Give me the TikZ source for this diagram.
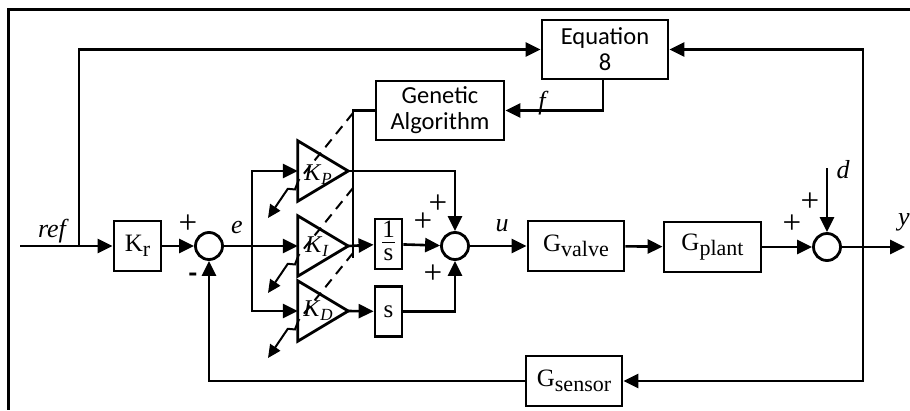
\documentclass[tikz,border=0pt]{standalone}
\usepackage{fontspec}
\setmainfont{Liberation Serif}
\newfontfamily\calibrifont{Carlito}
\usetikzlibrary{arrows.meta,calc}
\setlength\arrayrulewidth{0.8pt}
\newcommand\Gsub[2]{#1\raisebox{-5pt}{\fontsize{22}{22}\selectfont #2}}
\newcommand\Ksub[1]{\textit{K}\raisebox{-4pt}{\fontsize{17}{17}\selectfont\textit{#1}}}

\begin{document}
\begin{tikzpicture}[x=1pt,y=-1pt,
  wire/.style={line width=2.6pt},
  sig/.style={wire,-{Triangle[length=15pt,width=14pt]}},
  blk/.style={draw,line width=2.8pt,inner sep=0pt,minimum width=#1,minimum height=50pt,
              font=\fontsize{25}{25}\selectfont},
  sumj/.style={draw,circle,line width=2.8pt,minimum size=27pt,inner sep=0pt},
  gainhold/.style={inner sep=0pt,minimum width=50pt,minimum height=60pt},
  gaintri/.style={line width=2.8pt,line join=miter},
  ital/.style={font=\itshape\fontsize{26}{26}\selectfont,inner sep=0pt},
  sgn/.style={font=\fontsize{33}{33}\selectfont,inner sep=0pt},
  algtxt/.style={draw,line width=2.8pt,inner sep=0pt,minimum height=59pt,
                 font=\calibrifont\fontsize{24.5}{26}\selectfont,align=center},
  adj/.style={line width=2pt,dash pattern=on 10pt off 7pt},
  adjtip/.style={line width=2pt,-{Triangle[length=13pt,width=12pt]}},
]
\useasboundingbox (0,0) rectangle (910,410);

% outer frame
\draw[line width=3pt] (910,9) -- (8,9) -- (8,410);

% blocks
\node[blk=47pt] (kr) at (137.5,246) {\Gsub{K}{r}};
\node[sumj] (s1) at (209,246) {};
\node[gainhold] (kp) at (323,171) {};
\node[gainhold] (ki) at (323,246) {};
\node[gainhold] (kd) at (323,311) {};
\node[blk=27pt,font=\fontsize{25}{25}\selectfont] (inv) at (388.5,244)
  {\begin{tabular}{@{}c@{}}1\\[-3pt]\hline\rule{0pt}{17pt}s\end{tabular}};
\node[blk=27pt,font=\fontsize{25}{25}\selectfont] (der) at (388.5,311.5) {s};
\node[sumj] (s2) at (455,246) {};
\node[blk=96pt] (gv) at (576,246) {\Gsub{G}{valve}};
\node[blk=97pt] (gp) at (712.5,247) {\Gsub{G}{plant}};
\node[sumj] (s3) at (827,247) {};
\node[blk=96pt] (gs) at (574,381) {\Gsub{G}{sensor}};
\node[algtxt,minimum width=126pt] (eq) at (605,49.5) {Equation\\8};
\node[algtxt,minimum width=128pt] (ga) at (440,110.5) {Genetic\\Algorithm};

% gain triangles
\foreach \g in {kp,ki,kd}
  \draw[gaintri] (\g.north west) -- (\g.east) -- (\g.south west) -- cycle;
\node[font=\fontsize{24}{24}\selectfont,inner sep=0pt] (kplbl) at (318,175) {\Ksub{P}};
\node[font=\fontsize{24}{24}\selectfont,inner sep=0pt] (kilbl) at (317,247) {\Ksub{I}};
\node[font=\fontsize{24}{24}\selectfont,inner sep=0pt] (kdlbl) at (318,311) {\Ksub{D}};

% junction points
\coordinate (refin) at (20,246);
\coordinate (refbr) at (79,246);
\coordinate (ebr) at (252,246);
\coordinate (yout) at (905,247);
\coordinate (ybr) at (863,247);
\coordinate (dtop) at (827,168);
\coordinate (gabot) at (353,258);

% signal paths
\draw[sig] (refin) -- (kr);
\draw[sig] (refbr) |- (eq);
\draw[sig] (kr) -- (s1);
\draw[sig] (s1) -- (ki);
\draw[sig] (ebr) |- (kp);
\draw[sig] (ebr) |- (kd);
\draw[sig] (kp.east) -| (s2);
\draw[sig] (ki.east) -- (inv);
\draw[sig] (inv) -- (s2);
\draw[sig] (kd.east) -- (der);
\draw[sig] (der) -| (s2);
\draw[sig] (s2) -- (gv);
\draw[sig] (gv) -- (gp);
\draw[sig] (gp) -- (s3);
\draw[sig] (s3) -- (yout);
\draw[sig] (dtop) -- (s3);
\draw[sig] (ybr) |- (eq);
\draw[sig] (ybr) |- (gs);
\draw[sig] (gs) -| (s1);
\draw[sig] ($(eq.south)+(-2,0)$) |- (ga);
\draw[wire] (ga) -| (gabot);

% gain adjustment marks
\foreach \g/\c in {kp/171,ki/246,kd/311}{
  \coordinate (\g-a) at (353,\c-58);
  \coordinate (\g-z) at (268,\c+47);
  \draw[adj] (\g-a) -- ($(\g-a)!0.64!(\g-z)$);
  \draw[adjtip] ($(\g-a)!0.64!(\g-z)$) -- ($(\g-a)!0.71!(\g-z)+(2.3,1.9)$)
     -- ($(\g-a)!0.74!(\g-z)+(-2.3,-1.9)$) -- (\g-z);
}

% signs
\node[sgn] (p1) at (188,224) {+};
\node[font=\calibrifont\bfseries\fontsize{28}{28}\selectfont,inner sep=0pt] (m1) at (193,278) {-};
\node[sgn] (p2a) at (438,204) {+};
\node[sgn] (p2b) at (423,222) {+};
\node[sgn] (p2c) at (433,274) {+};
\node[sgn] (p3a) at (792,224) {+};
\node[sgn] (p3b) at (810,202) {+};

% signal names
\node[ital] (lref) at (52,231) {ref};
\node[ital] (le) at (237,227) {e};
\node[ital] (lu) at (502,226) {u};
\node[ital] (lf) at (542,103) {f};
\node[ital] (ld) at (843,170) {d};
\node[ital] (ly) at (904,222) {y};
\end{tikzpicture}
\end{document}
